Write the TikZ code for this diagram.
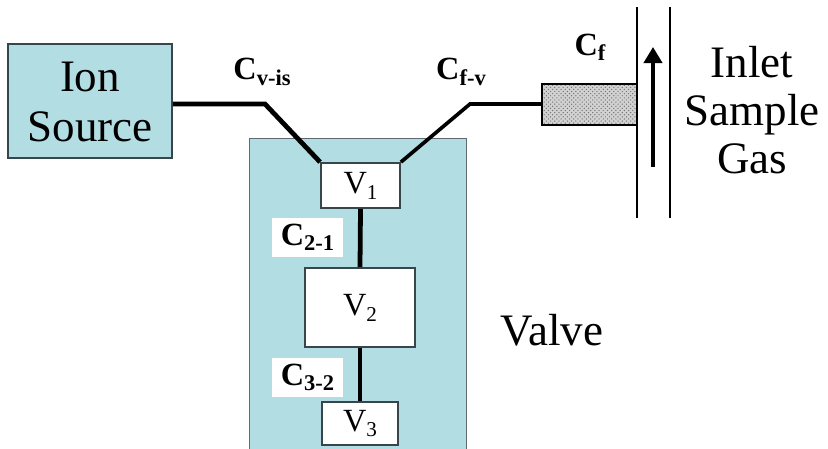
\documentclass[tikz,border=0pt]{standalone}
\usepackage{fontspec}
\setmainfont{Liberation Serif}
\usepackage{tikz}
\usetikzlibrary{calc, arrows.meta, patterns}
\usepackage{tkz-euclide}
\newfontfamily\labelfont{Liberation Serif}

\definecolor{valveblue}{RGB}{178,221,227}
\definecolor{edgegray}{RGB}{55,70,75}
\newcommand{\px}{0.025cm}
\newcommand{\sub}[1]{\raisebox{-0.35ex}{\fontsize{16}{16}\selectfont #1}}
\newcommand{\vsub}[1]{\raisebox{-0.4ex}{\fontsize{15}{15}\selectfont #1}}

\begin{document}
\begin{tikzpicture}[x=\px, y=\px,
        box/.style={draw=edgegray, line width=1.3pt, fill=white, inner sep=0pt},
        bluebox/.style={box, fill=valveblue},
        bigtext/.style={font=\labelfont\fontsize{32}{36}\selectfont, align=center},
        vtext/.style={font=\labelfont\fontsize{23}{23}\selectfont},
        ctext/.style={font=\labelfont\bfseries\fontsize{23}{23}\selectfont, inner sep=0pt},
        pipe/.style={line width=3.4pt},
        tube/.style={line width=0.8pt}]
                \clip (0,0) rectangle (828,448);
                \tkzDefPoints{265/344/K_1, 470/344/K_2, 637/441/T_1, 637/230/T_2, 670/441/T_3, 670/230/T_4, 653/281/A_1, 653/401/A_2}
                \node[bluebox, minimum width=164*\px, minimum height=114*\px] (ion) at (90,347) {};
                \node[bigtext] (iontext) at (90,346) {Ion\\Source};
                \node[bluebox, draw=edgegray!80, line width=1pt, minimum width=217*\px, minimum height=330*\px, anchor=north west] (valve) at (249,310) {};
                \node[box, minimum width=79*\px, minimum height=45*\px] (v1) at (360.5,262.5) {};
                \node[box, minimum width=110*\px, minimum height=79*\px] (v2) at (360,140.5) {};
                \node[box, minimum width=76*\px, minimum height=43*\px] (v3) at (360,24.5) {};
                \node[vtext] at (v1) {V\vsub{1}};
                \node[vtext] at (v2) {V\vsub{2}};
                \node[vtext] at (v3) {V\vsub{3}};
                \node[box, draw=black, line width=1.3pt, preaction={fill=gray!35}, pattern=crosshatch dots, pattern color=gray!90!black, minimum width=95*\px, minimum height=41*\px] (cf) at (589.5,343.5) {};
                \draw[pipe] (ion.east |- K_1) -- (K_1) -- (v1.north west);
                \draw[pipe, line width=2.6pt] (v1.north east) -- (K_2) -- (cf.west |- K_2);
                \draw[pipe] (v1.south) -- (v2.north);
                \draw[pipe] (v2.south) -- (v3.north);
                \draw[tube] (T_1) -- (T_2);
                \draw[tube] (T_3) -- (T_4);
                \draw[line width=3.4pt, -{Triangle[length=0.4cm, width=0.45cm]}] (A_1) -- (A_2);
                \node[ctext] (cvis) at (262,376) {C\sub{v-is}};
                \node[ctext] (cfv) at (461,376) {C\sub{f-v}};
                \node[ctext] (cflab) at (590,401) {C\sub{f}};
                \node[ctext, fill=white, minimum width=71*\px, minimum height=39*\px] (c21) at (307.5,210.5) {C\sub{2-1}};
                \node[ctext, fill=white, minimum width=71*\px, minimum height=39*\px] (c32) at (307.5,71) {C\sub{3-2}};
                \node[bigtext] (valvetext) at (552,118) {Valve};
                \node[bigtext, font=\labelfont\fontsize{32}{34}\selectfont] (inlet) at (752,338) {Inlet\\Sample\\Gas};
            \end{tikzpicture}
\end{document}
